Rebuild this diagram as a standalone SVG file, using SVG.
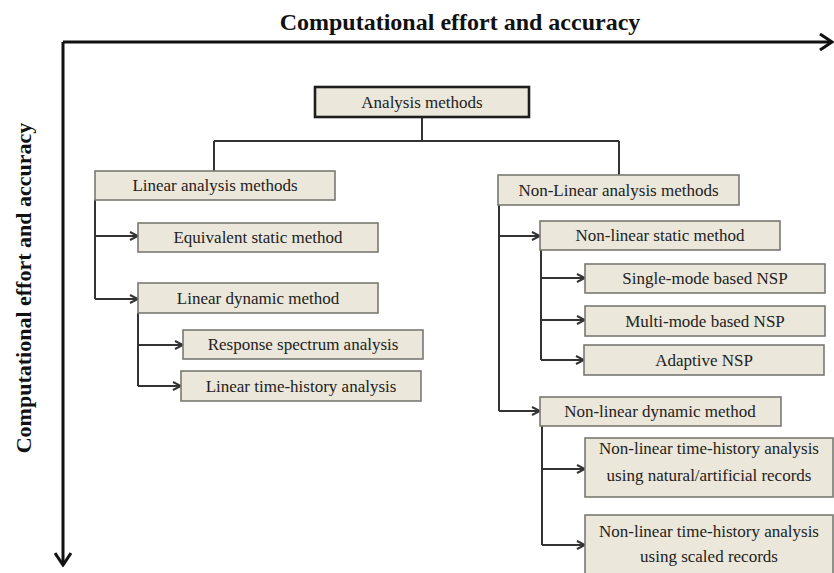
<svg xmlns="http://www.w3.org/2000/svg" width="834" height="573" viewBox="0 0 834 573">
<defs>
<style>
.box{fill:#ebe7da;stroke:#7a7a72;stroke-width:1.6}
.root{fill:#ebe7da;stroke:#1e1e1e;stroke-width:2.6}
.t{font-family:"Liberation Serif","Times New Roman",serif;font-size:17px;fill:#222;text-anchor:middle}
.ax{font-family:"Liberation Serif","Times New Roman",serif;font-size:24px;font-weight:bold;fill:#111;text-anchor:middle}
.c{fill:none;stroke:#333;stroke-width:2}
.axis{fill:none;stroke:#111;stroke-width:3}
</style>
<marker id="ah" viewBox="0 0 10 10" refX="9" refY="5" markerWidth="10" markerHeight="10" markerUnits="userSpaceOnUse" orient="auto">
<path d="M1,1 L9,5 L1,9" fill="none" stroke="#333" stroke-width="2"/>
</marker>
<marker id="axh" viewBox="0 0 16 18" refX="14" refY="9" markerWidth="16" markerHeight="18" markerUnits="userSpaceOnUse" orient="auto">
<path d="M2,1 L14,9 L2,17" fill="none" stroke="#111" stroke-width="3"/>
</marker>
</defs>
<rect width="834" height="573" fill="#fff"/>

<g id="axes">
<path class="axis" d="M63,42 H832" marker-end="url(#axh)"/>
<path class="axis" d="M63,42 V565" marker-end="url(#axh)"/>
<text class="ax" x="460" y="30">Computational effort and accuracy</text>
<text class="ax" transform="translate(31,288) rotate(-90)" x="0" y="0" style="font-size:22px">Computational effort and accuracy</text>
</g>

<g id="connectors">
<path class="c" d="M422,117 V141 M214,141 H619 M214,141 V171 M619,141 V175"/>
<path class="c" d="M95,200 V299"/>
<path class="c" d="M95,236 H138" marker-end="url(#ah)"/>
<path class="c" d="M95,299 H138" marker-end="url(#ah)"/>
<path class="c" d="M138,313 V386"/>
<path class="c" d="M138,345 H183" marker-end="url(#ah)"/>
<path class="c" d="M138,386 H181" marker-end="url(#ah)"/>
<path class="c" d="M499,205 V411"/>
<path class="c" d="M499,236 H540" marker-end="url(#ah)"/>
<path class="c" d="M499,411 H540" marker-end="url(#ah)"/>
<path class="c" d="M541,250 V360"/>
<path class="c" d="M541,278 H585" marker-end="url(#ah)"/>
<path class="c" d="M541,320 H585" marker-end="url(#ah)"/>
<path class="c" d="M541,360 H584" marker-end="url(#ah)"/>
<path class="c" d="M542,426 V545"/>
<path class="c" d="M542,469 H585" marker-end="url(#ah)"/>
<path class="c" d="M542,545 H585" marker-end="url(#ah)"/>
</g>

<g id="n-root"><rect class="root" x="315" y="87" width="214" height="30"/><text class="t" x="422" y="108">Analysis methods</text></g>
<g id="n-linear"><rect class="box" x="95" y="171" width="240" height="29"/><text class="t" x="215" y="191">Linear analysis methods</text></g>
<g id="n-eqstatic"><rect class="box" x="138" y="223" width="240" height="29"/><text class="t" x="258" y="243">Equivalent static method</text></g>
<g id="n-lindyn"><rect class="box" x="138" y="283" width="240" height="30"/><text class="t" x="258" y="304">Linear dynamic method</text></g>
<g id="n-rsa"><rect class="box" x="183" y="330" width="240" height="29"/><text class="t" x="303" y="350">Response spectrum analysis</text></g>
<g id="n-lth"><rect class="box" x="181" y="371" width="240" height="30"/><text class="t" x="301" y="392">Linear time-history analysis</text></g>
<g id="n-nonlinear"><rect class="box" x="498" y="175" width="241" height="30"/><text class="t" x="618.5" y="196">Non-Linear analysis methods</text></g>
<g id="n-nlstatic"><rect class="box" x="540" y="221" width="240" height="29"/><text class="t" x="660" y="241">Non-linear static method</text></g>
<g id="n-single"><rect class="box" x="585" y="264" width="240" height="29"/><text class="t" x="705" y="284">Single-mode based NSP</text></g>
<g id="n-multi"><rect class="box" x="585" y="306" width="240" height="30"/><text class="t" x="705" y="327">Multi-mode based NSP</text></g>
<g id="n-adaptive"><rect class="box" x="584" y="345" width="240" height="30"/><text class="t" x="704" y="366">Adaptive NSP</text></g>
<g id="n-nldyn"><rect class="box" x="540" y="397" width="241" height="29"/><text class="t" x="660" y="417">Non-linear dynamic method</text></g>
<g id="n-nlth-nat"><rect class="box" x="585" y="438" width="248" height="59"/><text class="t" x="709" y="454">Non-linear time-history analysis</text><text class="t" x="709" y="481">using natural/artificial records</text></g>
<g id="n-nlth-scaled"><rect class="box" x="585" y="515" width="248" height="64"/><text class="t" x="709" y="537">Non-linear time-history analysis</text><text class="t" x="709" y="562">using scaled records</text></g>
</svg>
